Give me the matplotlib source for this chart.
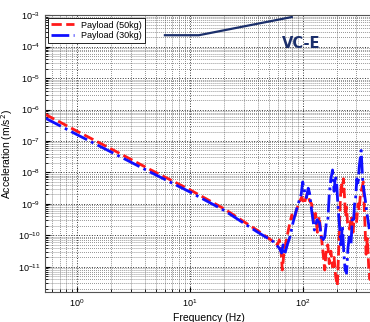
import numpy as np
import matplotlib
matplotlib.use("Agg")
import matplotlib.pyplot as plt

plt.rcParams["font.family"] = ["Liberation Sans", "DejaVu Sans"]

# Payload (50kg): frequency (Hz) and log10 acceleration (m/s^2)
freq_50 = [0.52, 1, 2, 4.4, 10, 20, 40, 55, 60, 62, 64, 66, 68, 72, 76, 80, 84, 88, 92, 98,
           103, 110, 115, 120, 125, 130, 135, 140, 147, 152, 157, 162, 167, 172, 178, 184,
           190, 196, 203, 210, 215, 220, 225, 230, 235, 240, 245, 250, 260, 270, 280, 288,
           300, 310, 317, 325, 335, 345, 350, 358, 365, 375, 385, 395, 410]
acc_50 = [-6.15, -6.69, -7.25, -7.90, -8.55, -9.15, -9.85, -10.2, -10.3, -10.14, -10.4, -11.1,
          -10.6, -10.1, -9.7, -9.35, -9.5, -9.2, -9.0, -8.78, -9.0, -8.65, -8.9, -9.0, -9.6,
          -9.3, -9.9, -9.4, -10.1, -10.6, -11.1, -10.4, -10.3, -10.9, -10.5, -11.0, -10.7,
          -11.3, -11.6, -10.2, -9.0, -8.33, -8.6, -8.2, -8.8, -9.4, -9.1, -9.6, -9.8, -9.4,
          -9.9, -9.3, -9.6, -9.0, -9.2, -8.7, -8.5, -8.3, -8.9, -9.8, -10.6, -10.1, -11.0,
          -11.4, -10.8]

# Payload (30kg)
freq_30 = [0.52, 1, 2, 4.4, 10, 20, 40, 55, 58, 62, 65, 67, 69, 73, 77, 82, 88, 93, 97, 100,
           104, 108, 112, 115, 120, 127, 134, 141, 148, 157, 162, 167, 172, 178, 184, 190,
           195, 200, 205, 211, 218, 225, 232, 238, 245, 252, 260, 268, 275, 282, 288, 295,
           302, 310, 317, 325, 330, 340, 350, 360, 368, 375, 390]
acc_30 = [-6.27, -6.8, -7.35, -7.98, -8.62, -9.2, -9.9, -10.2, -10.3, -10.4, -10.56, -10.3,
          -10.62, -10.3, -10.05, -9.6, -9.19, -8.9, -8.7, -8.3, -8.6, -8.8, -8.5, -8.65, -9.2,
          -9.83, -9.5, -9.6, -10.2, -10.05, -9.6, -9.55, -8.7, -8.2, -7.92, -8.6, -8.1, -8.33,
          -9.0, -9.6, -10.3, -9.7, -10.6, -11.1, -11.2, -10.4, -10.0, -10.3, -9.5, -9.6,
          -9.03, -8.8, -8.2, -8.4, -7.83, -7.5, -7.3, -8.2, -8.6, -8.9, -9.2, -9.4, -9.8]

# VC-E criterion line
vce_freq = [6, 12, 80]
vce_acc = [2.3e-4, 2.3e-4, 8.7e-4]

fig = plt.figure(figsize=(3.70, 3.22), dpi=100)
ax = fig.add_axes([0.122, 0.093, 0.886, 0.860])

ax.plot(freq_50, 10 ** np.array(acc_50), color="#ff1a1a", linestyle="--", linewidth=2,
        label="Payload (50kg)")
ax.plot(freq_30, 10 ** np.array(acc_30), color="#1010ff", linestyle="-.", linewidth=2,
        label="Payload (30kg)")
ax.plot(vce_freq, vce_acc, color="#1b2f6b", linewidth=1.6)
ax.text(96, 10 ** -3.89, "VC-E", color="#1b2f6b", fontsize=10.5, fontweight="bold",
        ha="center", va="center", family=["DejaVu Sans"])

ax.set_xscale("log")
ax.set_yscale("log")
ax.set_xlim(0.52, 420)
ax.set_ylim(10 ** -11.8, 1e-3)
ax.set_yticks([10.0 ** e for e in range(-11, -2)])
ax.set_xticks([1, 10, 100])

ax.grid(True, which="major", color="#333333", linestyle=":", linewidth=0.7)
ax.grid(True, which="minor", color="#555555", linestyle=":", linewidth=0.55)
ax.tick_params(which="both", direction="in", labelsize=6.5)
for s in ax.spines.values():
    s.set_color("#555555")

ax.set_xlabel("Frequency (Hz)", fontsize=7.5, labelpad=3)
ax.set_ylabel("Acceleration (m/s$^2$)", fontsize=7.5, labelpad=2)

leg = ax.legend(loc="upper left", fontsize=6.5, handlelength=2.6, borderaxespad=0.3,
                fancybox=False, framealpha=1, borderpad=0.3, labelspacing=0.2)
leg.get_frame().set_edgecolor("black")
leg.get_frame().set_linewidth(0.6)

fig.savefig("out.png", dpi=100)
plt.close(fig)
